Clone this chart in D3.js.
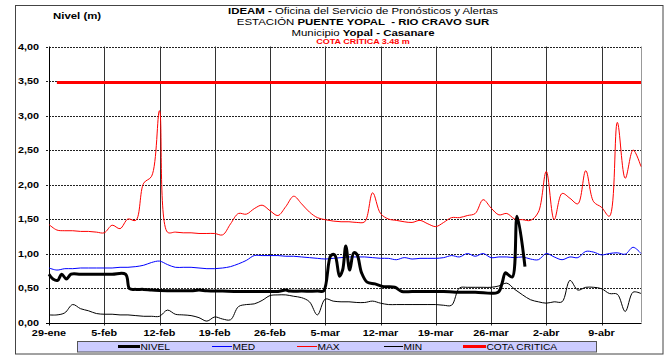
<!DOCTYPE html>
<html><head><meta charset="utf-8">
<script src="https://cdn.jsdelivr.net/npm/d3@7"></script>
<style>
body{margin:0;background:#fff}
svg{display:block}
text{font-family:"Liberation Sans",Arial,sans-serif}
</style></head><body>
<svg id="c" width="671" height="356"></svg>
<script>
// ---- data ----
const tickLabels = ["29-ene","5-feb","12-feb","19-feb","26-feb","5-mar","12-mar","19-mar","26-mar","2-abr","9-abr"];
const tickDays = [0,7,14,21,28,35,42,49,56,63,70];
const yTicks = [0,0.5,1,1.5,2,2.5,3,3.5,4];
const lastDay = 75;
const days = d3.range(0, lastDay + 1);
const maxVals = [1.42,1.34,1.33,1.33,1.32,1.32,1.31,1.30,1.41,1.36,
  1.50,1.48,2.02,2.12,3.07,1.31,1.31,1.30,1.30,1.29,
  1.29,1.29,1.27,1.43,1.58,1.57,1.65,1.70,1.62,1.55,
  1.68,1.83,1.72,1.60,1.52,1.49,1.47,1.46,1.46,1.45,
  1.46,1.88,1.58,1.50,1.48,1.46,1.45,1.48,1.43,1.39,
  1.45,1.52,1.52,1.55,1.58,1.78,1.66,1.56,1.58,1.50,
  1.49,1.48,1.60,2.19,1.49,1.87,1.80,1.72,2.20,1.75,
  1.67,1.54,2.90,2.09,2.50,2.26];
const medVals = [0.79,0.76,0.78,0.78,0.79,0.79,0.79,0.79,0.79,0.80,
  0.80,0.81,0.83,0.87,0.89,0.84,0.80,0.80,0.80,0.79,
  0.78,0.78,0.79,0.81,0.85,0.90,0.97,0.97,0.97,0.97,
  0.96,0.96,0.95,0.94,0.93,0.92,0.93,0.94,0.95,0.95,
  0.95,0.94,0.93,0.93,0.91,0.94,0.92,0.93,0.93,0.93,
  0.94,0.97,0.95,1.00,0.96,1.00,0.94,0.95,0.95,0.94,
  0.95,0.92,0.91,1.00,0.95,0.91,0.95,0.94,1.03,1.02,
  0.98,1.00,1.01,0.99,1.09,1.00];
const minVals = [0.11,0.11,0.14,0.26,0.20,0.17,0.13,0.12,0.12,0.11,
  0.11,0.10,0.09,0.09,0.09,0.18,0.12,0.11,0.10,0.07,
  0.02,0.08,0.05,0.04,0.23,0.26,0.27,0.32,0.39,0.40,
  0.40,0.38,0.36,0.30,0.11,0.34,0.31,0.30,0.30,0.29,
  0.29,0.31,0.28,0.26,0.26,0.26,0.26,0.26,0.26,0.26,
  0.25,0.25,0.50,0.51,0.51,0.51,0.51,0.53,0.57,0.48,
  0.40,0.33,0.30,0.28,0.30,0.30,0.61,0.47,0.51,0.51,
  0.49,0.42,0.41,0.16,0.44,0.42];
const nivelDays = [0,0.5,1.1,1.6,2.2,2.8,4,6,8,9.7,
  10.2,11,12,13,14,16,18,19,20,22,
  24,26,28,29,30,30.5,32,34,34.8,35.7,
  36.2,36.8,37.2,37.6,38.1,38.6,39,39.6,40.3,41.3,
  42.4,43.8,44.7,46,48,50,51.5,54,56.9,57.4,
  57.8,58.1,58.7,59.3,60.3];
const nivelVals = [0.70,0.63,0.61,0.70,0.63,0.70,0.70,0.70,0.70,0.70,
  0.49,0.48,0.48,0.47,0.465,0.46,0.46,0.47,0.46,0.455,
  0.45,0.45,0.45,0.45,0.47,0.455,0.455,0.455,0.46,0.97,
  0.98,0.67,0.76,1.11,0.76,1.01,0.99,0.72,0.585,0.56,
  0.52,0.51,0.45,0.45,0.45,0.45,0.44,0.44,0.44,0.57,
  0.72,0.70,0.66,1.54,0.81];
const cotaCritica = 3.48;
const cotaDays = [1, 75];
const seriesNames = ["NIVEL","MED","MAX","MIN","COTA CRITICA"];
const titleLines = [
  [["IDEAM - ",true],["Oficina del Servicio de Pronósticos y Alertas",false]],
  [["ESTACIÓN ",false],["PUENTE YOPAL  - RIO CRAVO SUR",true]],
  [["Municipio ",false],["Yopal - Casanare",true]]
];
const cotaTitle = "COTA CRÍTICA 3.48 m";
const yAxisTitle = "Nivel (m)";

// ---- drawing ----
const svg = d3.select("#c");
const X0 = 49, X1 = 641, Y0 = 322.5, Y1 = 46.5;
const x = d3.scaleLinear().domain([0, lastDay]).range([X0, X1]);
const y = d3.scaleLinear().domain([0, 4]).range([Y0, Y1]);
const K = 1.2;
function stretch(sel){
  sel.each(function(){
    const L = this.getComputedTextLength();
    this.setAttribute("textLength", (L*K).toFixed(2));
    this.setAttribute("lengthAdjust","spacingAndGlyphs");
  });
}

svg.append("rect").attr("x",0).attr("y",0).attr("width",671).attr("height",356).attr("fill","#fff");
svg.append("rect").attr("x",15.5).attr("y",5.5).attr("width",647.5).attr("height",348.5)
  .attr("fill","none").attr("stroke","#444");

// horizontal dotted grid
svg.append("g").selectAll("line").data(yTicks.filter(v=>v>0)).join("line")
  .attr("x1",X0-3).attr("x2",X1).attr("y1",d=>Math.round(y(d))+0.5).attr("y2",d=>Math.round(y(d))+0.5)
  .attr("stroke","#222").attr("stroke-dasharray","2,1");
// vertical grid
svg.append("g").selectAll("line").data(tickDays.filter(d=>d>0)).join("line")
  .attr("x1",d=>Math.round(x(d))+0.5).attr("x2",d=>Math.round(x(d))+0.5)
  .attr("y1",Y1).attr("y2",Y0+3).attr("stroke","#333");
// plot right border
svg.append("line").attr("x1",X1+0.5).attr("x2",X1+0.5).attr("y1",Y1).attr("y2",Y0).attr("stroke","#999");
// axes lines
svg.append("line").attr("x1",X0+0.5).attr("x2",X0+0.5).attr("y1",Y1).attr("y2",Y0+3).attr("stroke","#000");
svg.append("line").attr("x1",X0-3).attr("x2",X1+0.5).attr("y1",Math.round(Y0)+0.5).attr("y2",Math.round(Y0)+0.5).attr("stroke","#000");

// y tick labels
const yl = svg.append("g").selectAll("text").data(yTicks).join("text")
  .attr("x",39).attr("y",d=>y(d)+3.2).attr("text-anchor","end")
  .attr("font-size","9px").attr("font-weight","bold")
  .text(d=>d3.format(".2f")(d).replace(".",","));
stretch(yl);
// x tick labels
const xl = svg.append("g").selectAll("text").data(tickDays).join("text")
  .attr("x",(d)=>x(d)).attr("y",335.5).attr("text-anchor","middle")
  .attr("font-size","9px").attr("font-weight","bold")
  .text((d,i)=>tickLabels[i]);
stretch(xl);

// series
const line = d3.line().curve(d3.curveCatmullRom.alpha(0.5));
function drawSeries(dayArr, vals, color, w){
  svg.append("path").attr("d", line(dayArr.map((d,i)=>[x(d), y(vals[i])])))
    .attr("fill","none").attr("stroke",color).attr("stroke-width",w).attr("stroke-linejoin","round");
}
drawSeries(days, minVals, "#000", 1);
drawSeries(days, maxVals, "#ff0000", 1);
drawSeries(days, medVals, "#0000ff", 1);
drawSeries(nivelDays, nivelVals, "#000", 3);
svg.append("line").attr("x1",x(cotaDays[0])).attr("x2",x(cotaDays[1]))
  .attr("y1",y(cotaCritica)).attr("y2",y(cotaCritica))
  .attr("stroke","#ff0000").attr("stroke-width",3);

// titles
const tY = [14, 24.5, 36];
titleLines.forEach((parts,i)=>{
  const t = svg.append("text").attr("x",363).attr("y",tY[i]).attr("text-anchor","middle")
    .attr("font-size","9.5px").attr("xml:space","preserve");
  parts.forEach(p=>t.append("tspan").attr("font-weight",p[1]?"bold":"normal").text(p[0]));
  stretch(t);
});
stretch(svg.append("text").attr("x",363).attr("y",43.5).attr("text-anchor","middle")
  .attr("font-size","7.5px").attr("font-weight","bold").attr("fill","#ff0000").text(cotaTitle));
stretch(svg.append("text").attr("x",53).attr("y",19).attr("font-size","9.5px").attr("font-weight","bold").text(yAxisTitle));

// legend
svg.append("rect").attr("x",77.5).attr("y",341.5).attr("width",519).attr("height",10.5)
  .attr("fill","#ccccff").attr("stroke","#555");
const legStyle = [["#000",3],["#0000ff",1],["#ff0000",1],["#000",1],["#ff0000",3]];
const legX = [[118,140],[212,232],[297,317],[384,403],[463,486]];
seriesNames.forEach((n,i)=>{
  svg.append("line").attr("x1",legX[i][0]).attr("x2",legX[i][1]).attr("y1",346.5).attr("y2",346.5)
    .attr("stroke",legStyle[i][0]).attr("stroke-width",legStyle[i][1]);
  stretch(svg.append("text").attr("x",legX[i][1]+0.5).attr("y",350).attr("font-size","8.5px").text(n));
});
</script>
</body></html>
